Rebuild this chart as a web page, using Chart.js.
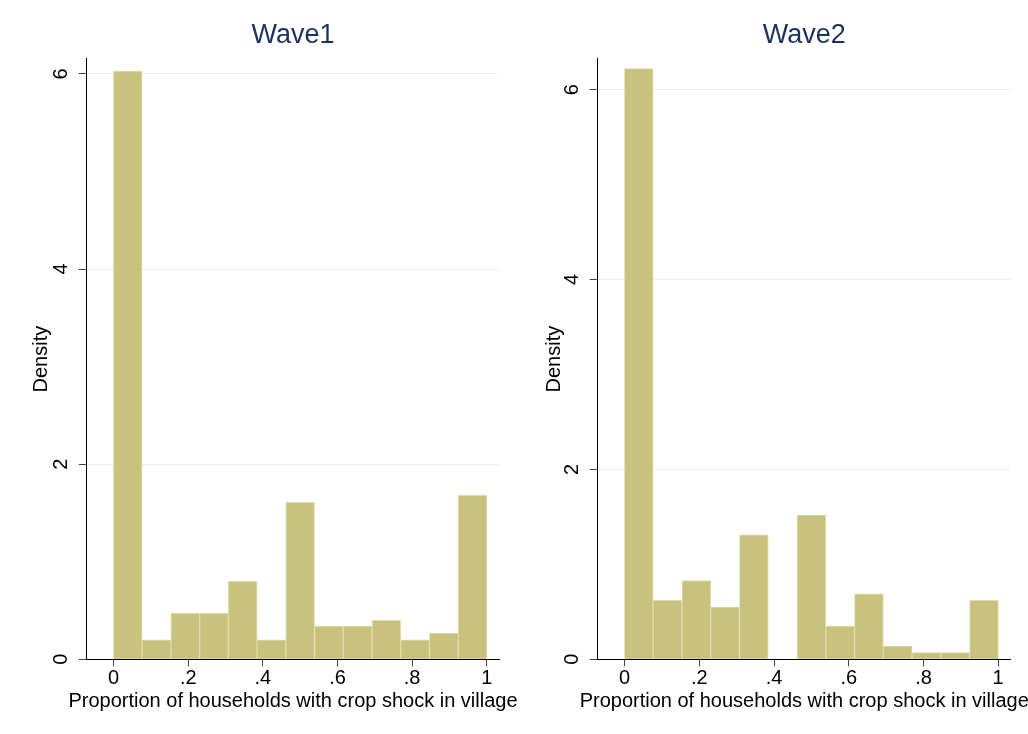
<!DOCTYPE html>
<html lang="en">
<head>
  <meta charset="UTF-8" />
  <title>Crop shock histograms</title>
  <script src="https://cdn.jsdelivr.net/npm/chart.js"></script>
  <style>
    html, body { margin: 0; padding: 0; background: #fff; }
    .wrap { position: relative; width: 1028px; height: 734px; }
    .panel { position: absolute; top: 0; height: 734px; }
  </style>
</head>
<body>
  <div class="wrap">
    <!-- left panel is a bit wider so its axis title is not cut, canvases are transparent -->
    <div class="panel" style="left: 0; width: 534px;"><canvas id="wave1"></canvas></div>
    <div class="panel" style="left: 514px; width: 514px;"><canvas id="wave2"></canvas></div>
  </div>

  <script>
    // bin midpoints (13 equal bins on 0..1)
    const binMids = [0.038, 0.115, 0.192, 0.269, 0.346, 0.423, 0.5, 0.577, 0.654, 0.731, 0.808, 0.885, 0.962];
    // density per bin
    const wave1 = [6.03, 0.20, 0.47, 0.47, 0.80, 0.20, 1.61, 0.34, 0.34, 0.40, 0.20, 0.27, 1.68];
    const wave2 = [6.22, 0.62, 0.83, 0.55, 1.31, 0, 1.52, 0.35, 0.69, 0.14, 0.07, 0.07, 0.62];
    const xTicks = [0, 0.2, 0.4, 0.6, 0.8, 1];
    const xTickLabels = ['0', '.2', '.4', '.6', '.8', '1'];
    const yTicks = [0, 2, 4, 6];
    const xTitle = 'Proportion of households with crop shock in village';

    const FONT = '"Liberation Sans", Arial, sans-serif';
    Chart.defaults.font.family = FONT;
    Chart.defaults.color = '#000';

    // chart.js squeezes axis titles to the plot width, the original runs wider
    const xTitlePlugin = {
      id: 'xTitle',
      afterDraw(chart) {
        const s = chart.scales.x;
        const c = chart.ctx;
        c.save();
        c.font = '20px ' + FONT;
        c.fillStyle = '#000';
        c.textAlign = 'center';
        c.textBaseline = 'middle';
        c.fillText(xTitle, (s.left + s.right) / 2, s.bottom - 33);
        c.restore();
      }
    };

    function makeHist(id, titleText, values, yMax, axisW, padRight, yTitlePad) {
      const ctx = document.getElementById(id).getContext('2d');
      return new Chart(ctx, {
        type: 'bar',
        data: {
          datasets: [{
            data: values.map((v, i) => ({ x: binMids[i], y: v })),
            backgroundColor: '#c9c27f',
            borderColor: '#e0dcaa',
            borderWidth: 1,
            barPercentage: 1,
            categoryPercentage: 1
          }]
        },
        options: {
          responsive: true,
          maintainAspectRatio: false,
          animation: false,
          layout: { padding: { left: 0, right: padRight, top: 0, bottom: 0 } },
          scales: {
            x: {
              type: 'linear',
              offset: false,
              min: -0.072,
              max: 1.0335,
              afterBuildTicks: s => { s.ticks = xTicks.map(v => ({ value: v })); },
              afterFit: s => { s.height = 74.7; },
              ticks: {
                padding: 0,
                maxRotation: 0,
                font: { size: 20 },
                callback: (v, i) => xTickLabels[i]
              },
              grid: { display: true, offset: false, drawOnChartArea: false, tickLength: 7, tickColor: '#444' },
              border: { color: '#000', width: 1 }
            },
            y: {
              min: 0,
              max: yMax,
              afterBuildTicks: s => { s.ticks = yTicks.map(v => ({ value: v })); },
              afterFit: s => { s.width = axisW; },
              ticks: {
                padding: 11.4,
                minRotation: 90,
                maxRotation: 90,
                crossAlign: 'center',
                font: { size: 20 }
              },
              grid: {
                tickLength: 8,
                tickColor: '#444',
                color: c => (c.tick && c.tick.value === 0) ? 'rgba(0,0,0,0)' : '#e6eff2',
                lineWidth: 1
              },
              border: { color: '#000', width: 1 },
              title: {
                display: true,
                text: 'Density',
                font: { size: 20 },
                padding: { top: yTitlePad, bottom: 0 }
              }
            }
          },
          plugins: {
            legend: { display: false },
            tooltip: { enabled: false },
            title: {
              display: true,
              text: titleText,
              fullSize: false,
              color: '#1c325e',
              font: { size: 27, weight: 'normal' },
              padding: { top: 19.8, bottom: 6.7 }
            }
          }
        },
        plugins: [xTitlePlugin]
      });
    }

    makeHist('wave1', 'Wave1', wave1, 6.154, 86.7, 34.7, 29);
    makeHist('wave2', 'Wave2', wave2, 6.323, 83.7, 17.3, 28);
  </script>
</body>
</html>
